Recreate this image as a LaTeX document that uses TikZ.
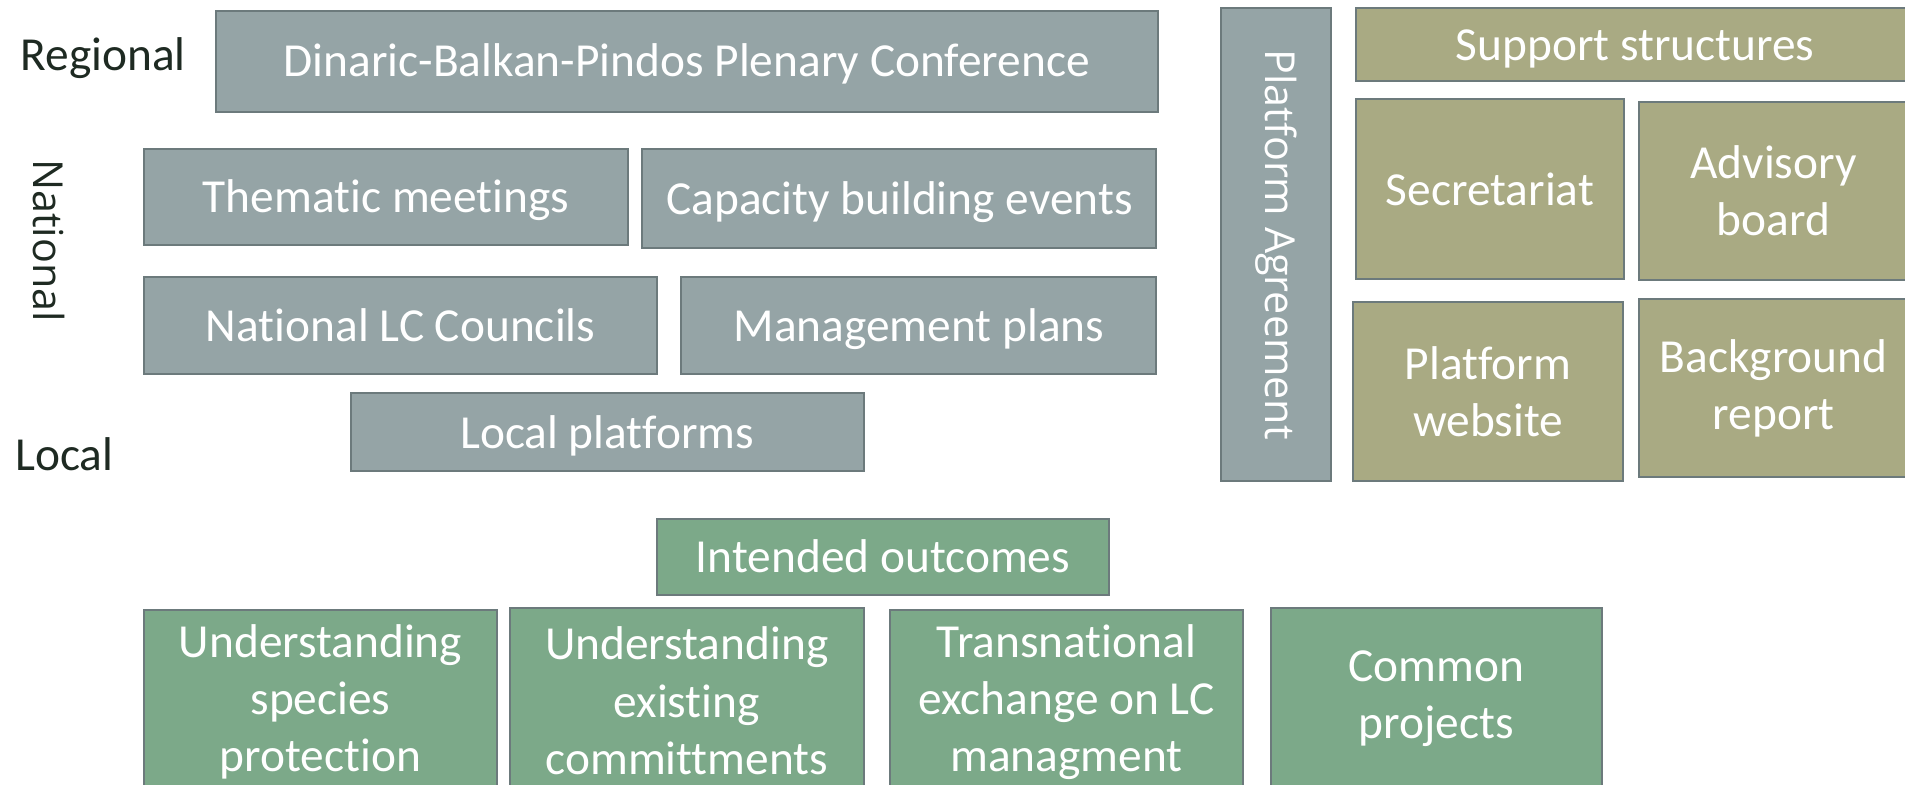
\documentclass[tikz,border=0pt]{standalone}
\usepackage{fontspec}
\setmainfont{Carlito}[Ligatures=NoCommon]
\newfontfamily\labelfont{Open Sans}
\definecolor{slate}{RGB}{149,164,166}
\definecolor{slateline}{RGB}{108,122,124}
\definecolor{olive}{RGB}{169,170,131}
\definecolor{sage}{RGB}{124,169,137}
\definecolor{inkdark}{RGB}{30,42,34}
\begin{document}
\begin{tikzpicture}[x=1pt,y=-1pt,
  box/.style={draw=slateline, line width=1.6pt, anchor=north west, inner sep=0pt,
    text=white, align=center, font=\fontsize{39}{47}\selectfont},
  oneline/.style={text height=26pt, text depth=0pt},
  graybox/.style={box, fill=slate},
  olivebox/.style={box, fill=olive},
  greenbox/.style={box, fill=sage},
  tier/.style={text=inkdark, font=\fontsize{39}{47}\selectfont},
  sidetier/.style={text=inkdark, font=\labelfont\fontsize{34}{40}\selectfont, rotate=-90}]
\clip (0,0) rectangle (1568,646);

% tier labels
\node[tier] (regional) at (85,48) {Regional};
\node[sidetier] (national) at (40,198) {National};
\node[tier] (local) at (53,374) {Local};

% governance levels
\node[graybox, oneline, minimum width=775, minimum height=83] (plenary) at (177,8) {Dinaric-Balkan-Pindos Plenary Conference};
\node[graybox, oneline, minimum width=398, minimum height=79] (thematic) at (118,122) {Thematic meetings};
\node[graybox, oneline, minimum width=423, minimum height=81] (capacity) at (528,122) {Capacity building events};
\node[graybox, oneline, minimum width=422, minimum height=80] (councils) at (118,227) {National LC Councils};
\node[graybox, oneline, minimum width=391, minimum height=80] (mplans) at (560,227) {Management plans};
\node[graybox, oneline, minimum width=422, minimum height=64] (localpf) at (288,323) {Local platforms};

% platform agreement
\node[graybox, minimum width=91, minimum height=389] (agreement) at (1004,6) {};
\node[sidetier, text=white] (agreetext) at (agreement.center) {Platform Agreement};

% support structures
\node[olivebox, oneline, minimum width=460, minimum height=60] (support) at (1115,6) {Support structures};
\node[olivebox, oneline, minimum width=221, minimum height=148] (secretariat) at (1115,81) {Secretariat};
\node[olivebox, minimum width=222, minimum height=147] (advisory) at (1348,83) {Advisory\\board};
\node[olivebox, minimum width=222, minimum height=147] (website) at (1113,248) {Platform\\website};
\node[olivebox, minimum width=222, minimum height=147] (report) at (1348,245) {Background\\report};

% intended outcomes
\node[greenbox, oneline, minimum width=372, minimum height=63] (outcomes) at (540,426) {Intended outcomes};
\node[greenbox, minimum width=290, minimum height=152] (species) at (118,501) {Understanding\\species\\protection};
\node[greenbox, minimum width=291, minimum height=152] (commit) at (419,500) {Understanding\\existing\\committments};
\node[greenbox, minimum width=290, minimum height=152] (exchange) at (732,501) {Transnational\\exchange on LC\\managment};
\node[greenbox, minimum width=273, minimum height=148] (projects) at (1045,500) {Common\\projects};
\end{tikzpicture}
\end{document}
